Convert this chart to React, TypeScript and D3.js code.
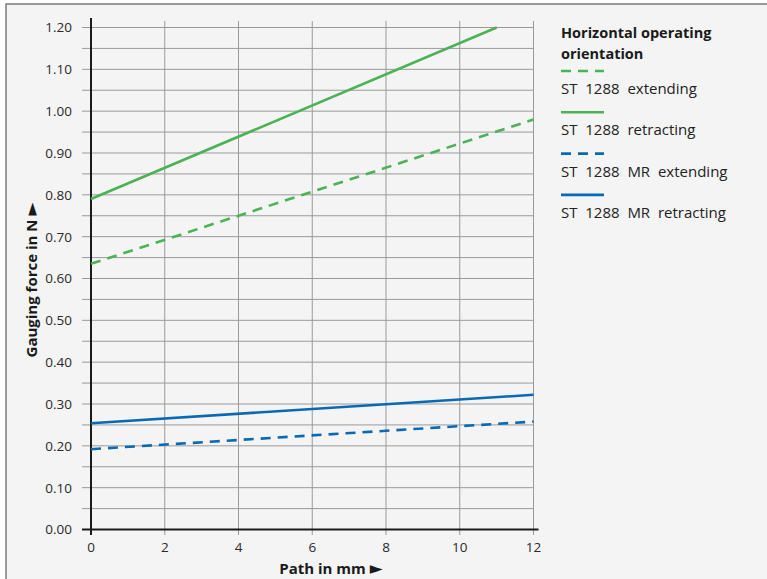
import React from "react";
import * as d3 from "d3";

const pathMm = [0, 12];
const stExtending = [0.635, 0.98];
const stRetractingX = [0, 11];
const stRetracting = [0.79, 1.2];
const mrExtending = [0.192, 0.258];
const mrRetracting = [0.254, 0.322];

const xTicks = [0, 2, 4, 6, 8, 10, 12];
const yTicks = [0, 0.1, 0.2, 0.3, 0.4, 0.5, 0.6, 0.7, 0.8, 0.9, 1.0, 1.1, 1.2];
const yMinor = d3.range(0, 1.2001, 0.05);

const legendItems = [
  { label: "ST  1288  extending", color: "#4db158", dashed: true },
  { label: "ST  1288  retracting", color: "#4db158", dashed: false },
  { label: "ST  1288  MR  extending", color: "#0a69b4", dashed: true },
  { label: "ST  1288  MR  retracting", color: "#0a69b4", dashed: false },
];

const W = 767;
const H = 579;
const FONT = "'Open Sans', 'Noto Sans', sans-serif";

export default function App() {
  const x = d3.scaleLinear().domain([0, 12]).range([91, 533.5]);
  const y = d3.scaleLinear().domain([0, 1.2]).range([529.5, 27.5]);
  const line = d3
    .line<[number, number]>()
    .x((d) => x(d[0]))
    .y((d) => y(d[1]));

  const series = [
    { xs: pathMm, ys: stExtending, color: "#4db158", dashed: true },
    { xs: stRetractingX, ys: stRetracting, color: "#4db158", dashed: false },
    { xs: pathMm, ys: mrExtending, color: "#0a69b4", dashed: true },
    { xs: pathMm, ys: mrRetracting, color: "#0a69b4", dashed: false },
  ];

  return (
    <svg
      width={W}
      height={H}
      style={{ position: "absolute", left: 0, top: 0, fontFamily: FONT }}
    >
      <rect x={0} y={0} width={W} height={H} fill="#ffffff" />
      <rect x={6} y={4} width={W + 10} height={H + 10} fill="#f4f4f4" stroke="#7a7a7a" strokeWidth={1.5} />

      {/* horizontal grid */}
      {yMinor.map((v, i) => (
        <line
          key={"h" + i}
          x1={82}
          x2={x(12)}
          y1={y(v)}
          y2={y(v)}
          stroke="#9a9a9a"
          strokeWidth={1}
        />
      ))}
      {/* vertical grid */}
      {xTicks.map((v) => (
        <line
          key={"v" + v}
          x1={x(v)}
          x2={x(v)}
          y1={21}
          y2={535}
          stroke="#9a9a9a"
          strokeWidth={1}
        />
      ))}
      {/* axes */}
      <line x1={x(0)} x2={x(0)} y1={18} y2={535} stroke="#1a1a1a" strokeWidth={2} />
      <line x1={82} x2={x(12) + 5} y1={y(0)} y2={y(0)} stroke="#1a1a1a" strokeWidth={2} />

      {/* y tick labels */}
      {yTicks.map((v) => (
        <text
          key={"yl" + v}
          x={72}
          y={y(v)}
          dy="0.36em"
          textAnchor="end"
          fontSize={13.5}
          fill="#2a2a2a"
        >
          {v.toFixed(2)}
        </text>
      ))}
      {/* x tick labels */}
      {xTicks.map((v) => (
        <text
          key={"xl" + v}
          x={x(v)}
          y={552}
          textAnchor="middle"
          fontSize={13.5}
          fill="#2a2a2a"
        >
          {v}
        </text>
      ))}

      {/* data lines */}
      {series.map((s, i) => (
        <path
          key={"s" + i}
          d={line(s.xs.map((xv, j) => [xv, s.ys[j]] as [number, number])) || ""}
          fill="none"
          stroke={s.color}
          strokeWidth={2.6}
          strokeDasharray={s.dashed ? "10,7" : undefined}
        />
      ))}

      {/* axis titles */}
      <text x={331} y={574} textAnchor="middle" fontSize={15} fontWeight="bold" fill="#1a1a1a">
        Path in mm{" "}
        <tspan fontFamily="'DejaVu Sans', sans-serif" fontWeight="normal" fontSize={17}>►</tspan>
      </text>
      <text
        transform="translate(37,280) rotate(-90)"
        textAnchor="middle"
        fontSize={15}
        fontWeight="bold"
        fill="#1a1a1a"
      >
        Gauging force in N{" "}
        <tspan fontFamily="'DejaVu Sans', sans-serif" fontWeight="normal" fontSize={17}>►</tspan>
      </text>

      {/* legend */}
      <text x={561} y={38} fontSize={14.5} fontWeight="bold" fill="#1a1a1a">
        Horizontal operating
      </text>
      <text x={561} y={59} fontSize={14.5} fontWeight="bold" fill="#1a1a1a">
        orientation
      </text>
      {legendItems.map((it, i) => {
        const ly = 71 + i * 41.3;
        return (
          <g key={"lg" + i}>
            <line
              x1={561}
              x2={604}
              y1={ly}
              y2={ly}
              stroke={it.color}
              strokeWidth={2.6}
              strokeDasharray={it.dashed ? "10,7" : undefined}
            />
            <text
              x={561}
              y={ly + 23}
              fontSize={15}
              fill="#222"
              style={{ whiteSpace: "pre" }}
            >
              {it.label}
            </text>
          </g>
        );
      })}
    </svg>
  );
}
